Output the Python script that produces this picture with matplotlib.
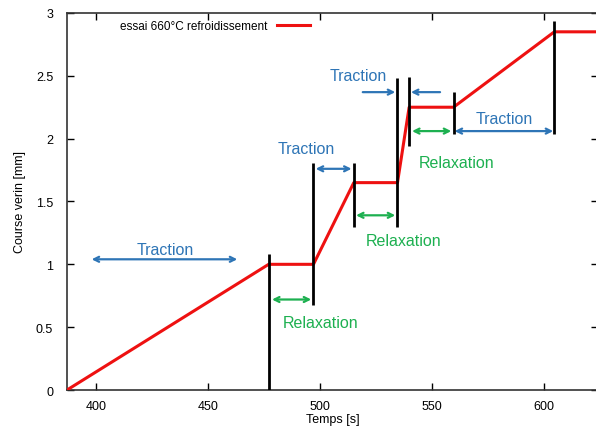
import matplotlib.pyplot as plt

plt.rcParams['font.family'] = ['Liberation Sans', 'DejaVu Sans']

# red curve
temps = [387, 477, 497, 515, 534.5, 539.7, 559.5, 604.5, 624]
course = [0, 1.0, 1.0, 1.65, 1.65, 2.25, 2.25, 2.85, 2.85]

# black vertical markers: x, y bottom, y top
mark_x = [477, 497, 515, 534.5, 539.7, 559.5, 604.5]
mark_y0 = [0.0, 0.68, 1.30, 1.30, 1.94, 2.04, 2.04]
mark_y1 = [1.08, 1.81, 1.81, 2.48, 2.49, 2.37, 2.94]

# double arrows: x start, x end, y, kind
arr_x0 = [398, 478.5, 498, 516, 541, 560]
arr_x1 = [463, 496, 514, 533.5, 558.5, 604]
arr_y = [1.04, 0.72, 1.76, 1.39, 2.06, 2.06]
arr_kind = ['T', 'R', 'T', 'R', 'R', 'T']

# labels
lab_x = [431, 500, 494, 537, 561, 517, 582]
lab_y = [1.12, 0.54, 1.92, 1.19, 1.81, 2.50, 2.16]
lab_txt = ['Traction', 'Relaxation', 'Traction', 'Relaxation', 'Relaxation', 'Traction', 'Traction']

blue = '#2E75B6'
green = '#1DB050'

fig = plt.figure(figsize=(5.96, 4.27), dpi=100)
ax = fig.add_axes([0.1124, 0.0843, 0.891, 0.883])

ax.plot(temps, course, color='#EE1111', lw=2.2, label='essai 660°C refroidissement', zorder=3)

ax.vlines(mark_x, mark_y0, mark_y1, color='black', lw=2, zorder=4)

for x0, x1, y, k in zip(arr_x0, arr_x1, arr_y, arr_kind):
    c = blue if k == 'T' else green
    ax.annotate('', xy=(x1, y), xytext=(x0, y),
                arrowprops=dict(arrowstyle='<->', color=c, lw=1.6, shrinkA=0, shrinkB=0,
                                mutation_scale=9))

# inward pointing traction arrows
ax.annotate('', xy=(533.5, 2.37), xytext=(519, 2.37),
            arrowprops=dict(arrowstyle='->', color=blue, lw=1.6, shrinkA=0, shrinkB=0, mutation_scale=9))
ax.annotate('', xy=(540.5, 2.37), xytext=(553.5, 2.37),
            arrowprops=dict(arrowstyle='->', color=blue, lw=1.6, shrinkA=0, shrinkB=0, mutation_scale=9))

for x, y, t in zip(lab_x, lab_y, lab_txt):
    ax.text(x, y, t, color=blue if t == 'Traction' else green, fontsize=11.5,
            ha='center', va='center')

ax.set_xlim(387, 624)
ax.set_ylim(0, 3)
ax.set_xticks([400, 450, 500, 550, 600])
ax.set_yticks([0, 0.5, 1, 1.5, 2, 2.5, 3])
ax.set_yticklabels(['0', '0.5', '1', '1.5', '2', '2.5', '3'])
ax.tick_params(direction='in', top=True, right=True, labelsize=9, length=5, width=1)
ax.tick_params(axis='y', pad=10)
ax.tick_params(axis='x', pad=7)
for s in ax.spines.values():
    s.set_linewidth(1.2)
    s.set_color('#333333')
ax.set_xlabel('Temps [s]', fontsize=9, labelpad=1)
ax.set_ylabel('Course verin [mm]', fontsize=9, labelpad=7)

ax.legend(loc='upper left', bbox_to_anchor=(0.08, 1.01), markerfirst=False, frameon=False,
          fontsize=8.5, handlelength=2.8)

fig.savefig('out.png', dpi=100)
